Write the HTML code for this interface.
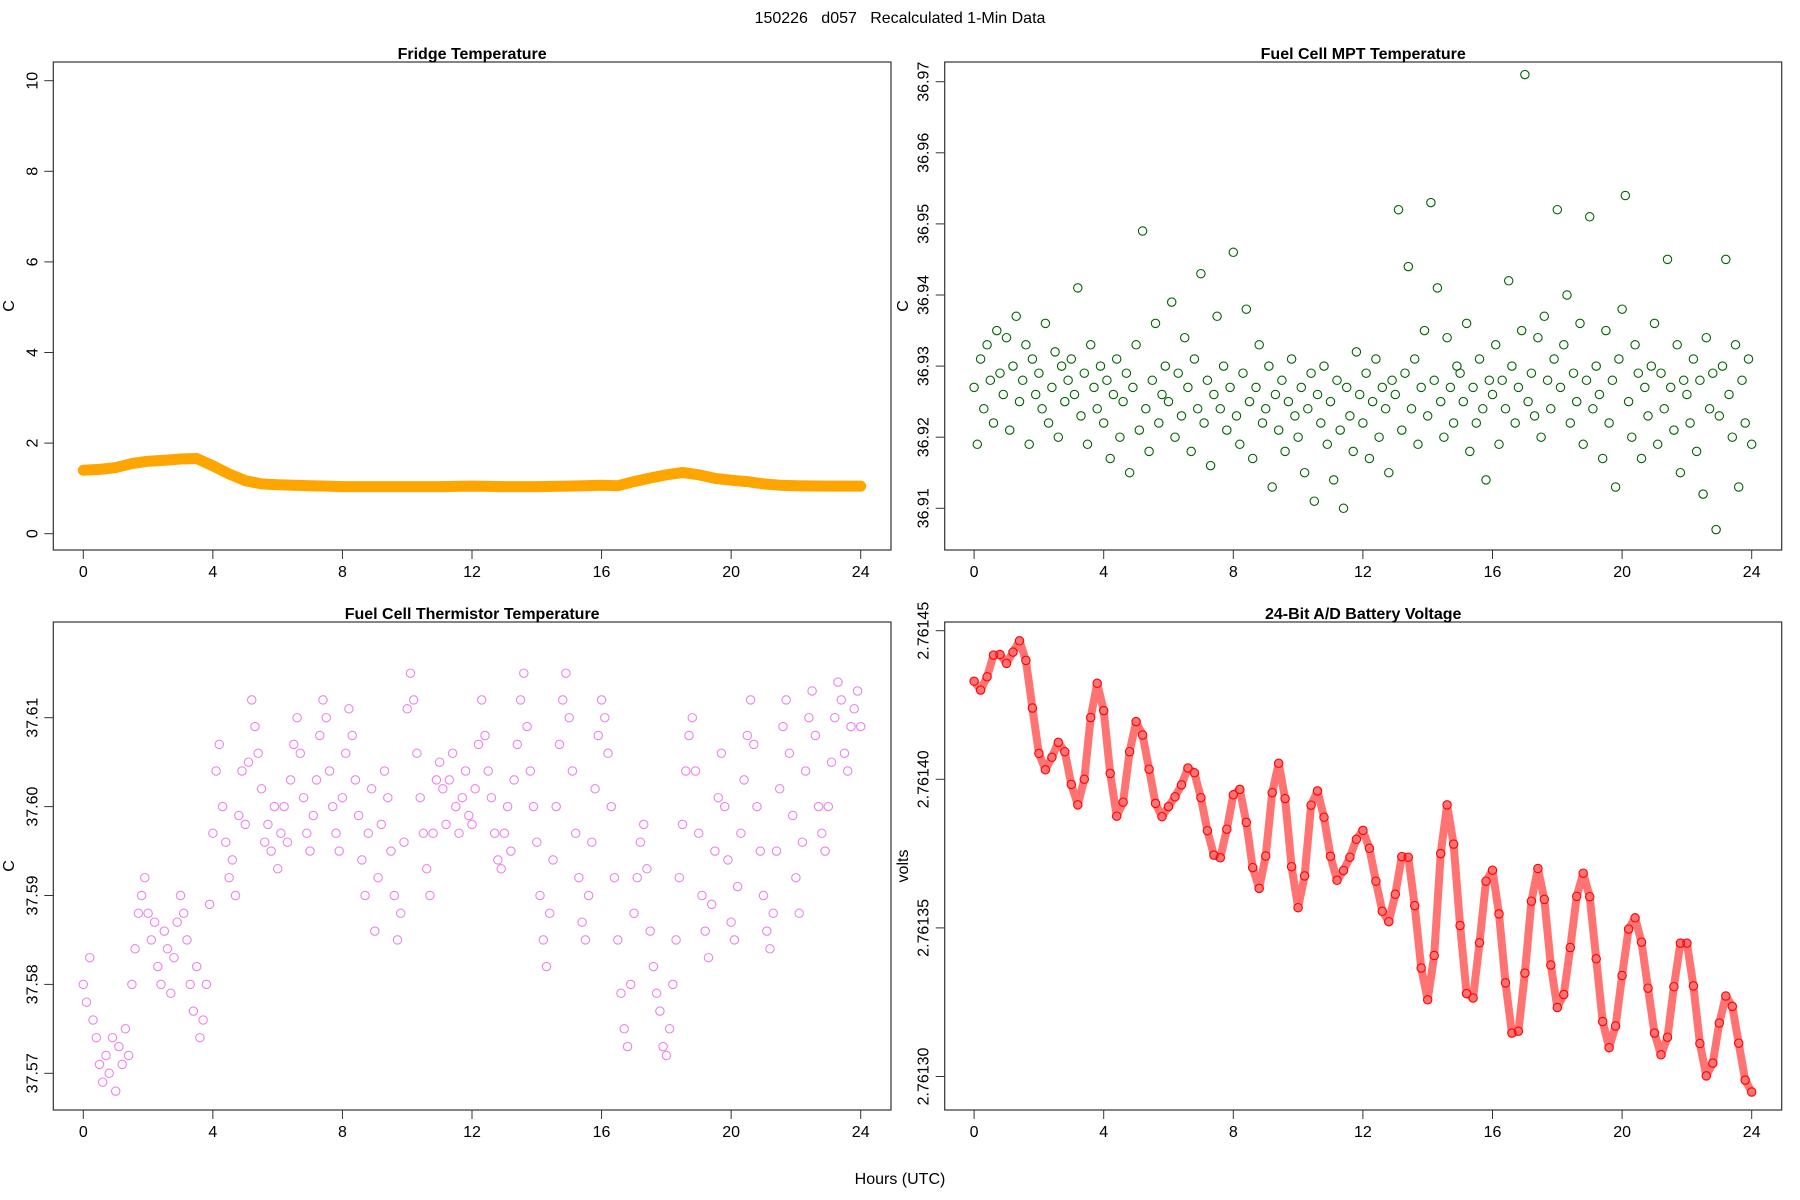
<!DOCTYPE html>
<html><head><meta charset="utf-8"><style>
html,body{margin:0;padding:0;background:#fff}
svg{display:block;font-family:"Liberation Sans",sans-serif}
</style></head><body>
<svg id="chart" width="1800" height="1200" viewBox="0 0 1800 1200" xmlns="http://www.w3.org/2000/svg">
<rect x="0" y="0" width="1800" height="1200" fill="#fff"/>
<text x="900" y="23" font-size="16" text-anchor="middle" style="white-space:pre" xml:space="preserve">150226   d057   Recalculated 1-Min Data</text>
<text x="900" y="1184" font-size="16" text-anchor="middle">Hours (UTC)</text>
</svg>
<script>
// ---- data ----
const hourTicks = [0,4,8,12,16,20,24];
const fridgeHours = [0,0.5,1,1.5,2,2.5,3,3.5,4,4.5,5,5.5,6,6.5,7,7.5,8,9,10,11,12,13,14,15,16,16.5,17,17.5,18,18.5,19,19.5,20,20.5,21,21.5,22,23,24];
const fridgeValues = [1.4,1.42,1.46,1.55,1.6,1.62,1.65,1.66,1.5,1.32,1.17,1.1,1.08,1.07,1.06,1.05,1.04,1.04,1.04,1.04,1.05,1.04,1.04,1.05,1.07,1.06,1.15,1.23,1.3,1.35,1.3,1.22,1.18,1.15,1.1,1.07,1.06,1.05,1.05];
const fridgeTicks = [0,2,4,6,8,10];
// MPT: thousandths of a degree above 36.90 C, every 0.1 h
const mptValues = [27,19,31,24,33,28,22,35,29,26,34,21,30,37,25,28,33,19,31,26,29,24,36,22,27,32,20,30,25,28,31,26,41,23,29,19,33,27,24,30,22,28,17,26,31,20,25,29,15,27,33,21,49,24,18,28,36,22,26,30,25,39,20,29,23,34,27,18,31,24,43,22,28,16,26,37,24,30,21,27,46,23,19,29,38,25,17,27,33,22,24,30,13,26,21,28,18,25,31,23,20,27,15,24,29,11,26,22,30,19,25,14,28,21,10,27,23,18,32,26,22,29,17,25,31,20,27,24,15,28,26,52,21,29,44,24,31,19,27,35,23,53,28,41,25,20,34,27,22,30,29,25,36,18,27,22,31,24,14,28,26,33,19,28,24,42,30,22,27,35,71,25,29,23,34,20,37,28,24,31,52,27,33,40,22,29,25,36,19,28,51,24,30,26,17,35,22,28,13,31,38,54,25,20,33,29,17,27,23,30,36,19,29,24,45,27,21,33,15,28,26,22,31,18,28,12,34,24,29,7,23,30,45,26,20,33,13,28,22,31,19];
const mptTicks = [36.91,36.92,36.93,36.94,36.95,36.96,36.97];
// Thermistor: thousandths of a degree above 37.50 C, every 0.1 h
const thermValues = [80,78,83,76,74,71,69,72,70,74,68,73,71,75,72,80,84,88,90,92,88,85,87,82,80,86,84,79,83,87,90,88,85,80,77,82,74,76,80,89,97,104,107,100,96,92,94,90,99,104,98,105,112,109,106,102,96,98,95,100,93,97,100,96,103,107,110,106,101,97,95,99,103,108,112,110,104,100,97,95,101,106,111,108,103,99,94,90,97,102,86,92,98,104,101,95,90,85,88,96,111,115,112,106,101,97,93,90,97,103,105,102,98,103,106,100,97,101,104,99,98,102,107,112,108,104,101,97,94,93,97,100,95,103,107,112,115,109,104,100,96,90,85,82,88,94,100,107,112,115,110,104,97,92,87,85,90,96,102,108,112,110,106,100,92,85,79,75,73,80,88,92,96,98,93,86,82,79,77,73,72,75,80,85,92,98,104,108,110,104,97,90,86,83,89,95,101,106,100,94,87,85,91,97,103,108,112,107,100,95,90,86,84,88,95,102,109,112,106,99,92,88,96,104,110,113,108,100,97,95,100,105,110,114,112,106,104,109,111,113,109];
const thermTicks = [37.57,37.58,37.59,37.60,37.61];
// Battery: units of 1e-5 V above 2.7613 V, every 0.2 h
const batteryValues = [13.3,13.0,13.45,14.18,14.2,13.9,14.28,14.66,14.0,12.4,10.87,10.32,10.74,11.24,10.93,9.83,9.14,10.0,12.08,13.23,12.31,10.2,8.76,9.23,10.93,11.94,11.49,10.34,9.19,8.74,9.08,9.41,9.81,10.38,10.22,9.38,8.27,7.45,7.36,8.32,9.48,9.66,8.55,7.03,6.33,7.42,9.55,10.54,9.35,7.06,5.68,6.75,9.13,9.61,8.72,7.41,6.6,6.93,7.38,7.98,8.28,7.68,6.57,5.56,5.21,6.13,7.4,7.38,5.75,3.65,2.58,4.07,7.5,9.14,7.82,5.08,2.79,2.64,4.5,6.57,6.94,5.47,3.15,1.46,1.52,3.48,5.9,7.0,5.96,3.75,2.32,2.76,4.34,6.06,6.84,6.05,3.96,1.85,0.97,1.7,3.4,4.96,5.34,4.52,2.97,1.46,0.73,1.32,3.02,4.49,4.49,3.05,1.11,0.02,0.45,1.8,2.71,2.36,1.12,-0.12,-0.52];
const batteryTickLabels = ["2.76130","2.76135","2.76140","2.76145"];
const batteryTicks = [0,5,10,15];

// ---- layout ----
const NS = "http://www.w3.org/2000/svg";
const svg = document.getElementById('chart');
function el(tag, attrs, parent){
  const e = document.createElementNS(NS, tag);
  for (const k in attrs) e.setAttribute(k, attrs[k]);
  (parent||svg).appendChild(e);
  return e;
}
const colL = {left:53.3, right:891, x0:83.3, x24:860.7};
const colR = {left:944.7, right:1781.7, x0:974.1, x24:1751.7};
const rowT = {top:62, bottom:550};
const rowB = {top:622, bottom:1110};
function xScale(col){ return h => col.x0 + (col.x24-col.x0)*h/24; }

function panel(name, col, row, title, ylabel, yScale, ticks, tickLabels, ylabX){
  const g = el('g', {});
  
  
  const box = el('rect', {x:col.left, y:row.top, width:col.right-col.left, height:row.bottom-row.top, fill:'none', stroke:'#333', 'stroke-width':1.2}, g);
  
  
  const t = el('text', {x:(col.left+col.right)/2, y:row.top-3, 'font-size':16, 'font-weight':'bold', 'text-anchor':'middle'}, g);
  t.textContent = title;
  
  
  const xs = xScale(col);
  const xa = el('g', {}, g);
  
  
  hourTicks.forEach(h => {
    el('line', {x1:xs(h), x2:xs(h), y1:row.bottom, y2:row.bottom+9, stroke:'#333', 'stroke-width':1}, xa);
    const lt = el('text', {x:xs(h), y:row.bottom+27, 'font-size':16, 'text-anchor':'middle'}, xa);
    lt.textContent = h;
    
    
  });
  const ya = el('g', {}, g);
  
  
  ticks.forEach((v,i) => {
    const y = yScale(v);
    el('line', {x1:col.left-9, x2:col.left, y1:y, y2:y, stroke:'#333', 'stroke-width':1}, ya);
    const lt = el('text', {x:0, y:0, 'font-size':16, 'text-anchor':'middle', transform:`translate(${col.left-16},${y}) rotate(-90)`}, ya);
    lt.textContent = tickLabels[i];
    
    
  });
  const yl = el('text', {x:0, y:0, 'font-size':16, 'text-anchor':'middle', transform:`translate(${ylabX},${(row.top+row.bottom)/2}) rotate(-90)`}, g);
  yl.textContent = ylabel;
  
  
  return g;
}
function points(g, name, hours, values, xs, ys, color, band){
  const s = el('g', {}, g);
  
  
  if (band){
    const d = hours.map((h,i)=>(i?'L':'M')+xs(h).toFixed(1)+','+ys(values[i]).toFixed(1)).join('');
    const p = el('path', {d:d, fill:'none', stroke:color, 'stroke-width':band.w, 'stroke-opacity':band.o, 'stroke-linejoin':'round', 'stroke-linecap':'round'}, s);
    
    
  }
  hours.forEach((h,i) => {
    const c = el('circle', {cx:xs(h).toFixed(1), cy:ys(values[i]).toFixed(1), r:4.2, fill:'none', stroke:color, 'stroke-width':1.1}, s);
    
    
  });
}

// Fridge
const yFridge = v => 533.7 - v*45.3;
const gF = panel('fridge-panel', colL, rowT, 'Fridge Temperature', 'C', yFridge, fridgeTicks, fridgeTicks.map(String), 14);
points(gF, 'fridge-series', fridgeHours, fridgeValues, xScale(colL), yFridge, '#FFA500', {w:11, o:1});

// MPT
const yMpt = v => 508.3 - (v-36.91)*7110;
const mptHours = mptValues.map((_,i)=>i*0.1);
const gM = panel('mpt-panel', colR, rowT, 'Fuel Cell MPT Temperature', 'C', yMpt, mptTicks, mptTicks.map(v=>v.toFixed(2)), 908);
points(gM, 'mpt-series', mptHours, mptValues.map(v=>36.9+v/1000), xScale(colR), yMpt, '#006400', null);

// Thermistor
const yTherm = v => 1073.3 - (v-37.57)*8890;
const thermHours = thermValues.map((_,i)=>i*0.1);
const gT = panel('thermistor-panel', colL, rowB, 'Fuel Cell Thermistor Temperature', 'C', yTherm, thermTicks, thermTicks.map(v=>v.toFixed(2)), 14);
points(gT, 'thermistor-series', thermHours, thermValues.map(v=>37.5+v/1000), xScale(colL), yTherm, '#EE82EE', null);

// Battery
const yBat = v => 1076.5 - v*29.72;
const batHours = batteryValues.map((_,i)=>i*0.2);
const gB = panel('battery-panel', colR, rowB, '24-Bit A/D Battery Voltage', 'volts', yBat, batteryTicks, batteryTickLabels, 908);
points(gB, 'battery-series', batHours, batteryValues, xScale(colR), yBat, '#FF0000', {w:8, o:0.55});
</script>
</body></html>
